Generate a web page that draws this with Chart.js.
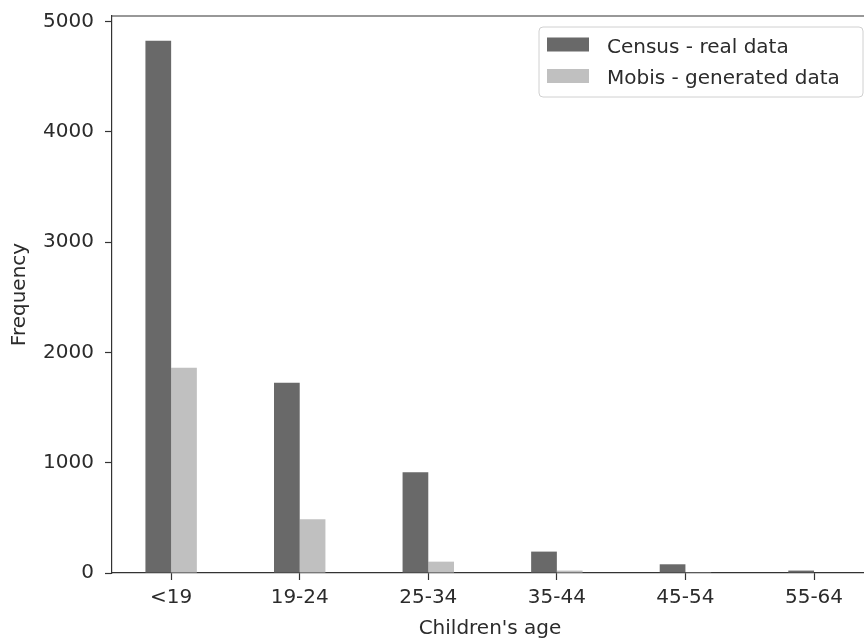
<!DOCTYPE html>
<html>
<head>
<meta charset="utf-8">
<title>Children's age – Census vs Mobis</title>
<script src="https://cdn.jsdelivr.net/npm/chart.js@4.4.1/dist/chart.umd.min.js"></script>
<style>
  html, body { margin: 0; padding: 0; background: #ffffff; overflow: hidden; }
  #wrap { width: 864px; height: 639px; overflow: hidden; }
  canvas { display: block; }
</style>
</head>
<body>
<div id="wrap"><canvas id="chart" width="880" height="639"></canvas></div>
<script>
// Age groups of the children
const categories = ['<19', '19-24', '25-34', '35-44', '45-54', '55-64'];
// Frequency per age group
const censusValues = [4826, 1725, 913, 194, 79, 22];
const mobisValues = [1861, 487, 103, 22, 2, 0];
// Y axis tick values
const yTicks = [0, 1000, 2000, 3000, 4000, 5000];

const seriesNames = ['Census - real data', 'Mobis - generated data'];
const seriesColors = ['#696969', '#c0c0c0'];

const TEXT = '#2b2b2b';
const AXIS = '#333333';
const FONT = 'DejaVu Sans';

Chart.defaults.font.family = FONT;
Chart.defaults.font.size = 20;
Chart.defaults.color = TEXT;

const toPoints = vals => categories.map((c, i) => ({ x: i, y: vals[i] }));

// Top and right frame lines of the plot box
const frame = {
  id: 'frame',
  afterDraw(chart) {
    const { ctx, chartArea: a } = chart;
    ctx.save();
    ctx.strokeStyle = AXIS;
    ctx.lineWidth = 1.2;
    ctx.beginPath();
    ctx.moveTo(a.left, a.top);
    ctx.lineTo(a.right, a.top);
    ctx.lineTo(a.right, a.bottom);
    ctx.stroke();
    ctx.restore();
  }
};

// Legend box inside the plot, upper right
const insideLegend = {
  id: 'insideLegend',
  afterDraw(chart) {
    const { ctx } = chart;
    const x0 = 539, y0 = 27, x1 = 863, y1 = 97, r = 4;
    ctx.save();
    ctx.fillStyle = 'rgba(255,255,255,0.8)';
    ctx.strokeStyle = '#d0d0d0';
    ctx.lineWidth = 1;
    ctx.beginPath();
    ctx.moveTo(x0 + r, y0);
    ctx.lineTo(x1 - r, y0);
    ctx.arcTo(x1, y0, x1, y0 + r, r);
    ctx.lineTo(x1, y1 - r);
    ctx.arcTo(x1, y1, x1 - r, y1, r);
    ctx.lineTo(x0 + r, y1);
    ctx.arcTo(x0, y1, x0, y1 - r, r);
    ctx.lineTo(x0, y0 + r);
    ctx.arcTo(x0, y0, x0 + r, y0, r);
    ctx.closePath();
    ctx.fill();
    ctx.stroke();
    ctx.font = '20px "' + FONT + '"';
    ctx.textBaseline = 'alphabetic';
    ctx.textAlign = 'left';
    chart.data.datasets.forEach((ds, i) => {
      const rowY = 37.5 + i * 31.5;
      ctx.fillStyle = ds.backgroundColor;
      ctx.fillRect(547, rowY, 42, 14);
      ctx.fillStyle = TEXT;
      ctx.fillText(ds.label, 607, rowY + 15);
    });
    ctx.restore();
  }
};

new Chart(document.getElementById('chart'), {
  type: 'bar',
  data: {
    datasets: [
      { label: seriesNames[0], data: toPoints(censusValues), backgroundColor: seriesColors[0], borderWidth: 0 },
      { label: seriesNames[1], data: toPoints(mobisValues), backgroundColor: seriesColors[1], borderWidth: 0 }
    ]
  },
  options: {
    responsive: false,
    devicePixelRatio: 1,
    animation: false,
    layout: { padding: { top: 16, right: 12, bottom: 0, left: 0 } },
    categoryPercentage: 0.4,
    barPercentage: 1.0,
    plugins: {
      legend: { display: false },
      tooltip: { enabled: false }
    },
    scales: {
      x: {
        type: 'linear',
        offset: false,
        min: -0.46,
        max: 5.42,
        afterFit(scale) {
          scale.height = 66;
          scale.paddingLeft = 0;
          scale.paddingRight = 0;
        },
        afterBuildTicks(scale) {
          scale.ticks = categories.map((c, i) => ({ value: i }));
        },
        ticks: {
          stepSize: 1,
          includeBounds: false,
          autoSkip: false,
          maxRotation: 0,
          padding: 6,
          color: TEXT,
          font: { size: 20 },
          callback: v => categories[v]
        },
        grid: {
          display: true,
          offset: false,
          drawOnChartArea: false,
          drawTicks: true,
          tickLength: 7,
          tickWidth: 1.2,
          color: AXIS
        },
        border: { display: true, color: AXIS, width: 1.2 },
        title: {
          display: true,
          text: "Children's age",
          color: TEXT,
          font: { size: 20, lineHeight: 1 },
          padding: { top: 0, bottom: 0 }
        }
      },
      y: {
        type: 'linear',
        min: 0,
        max: 5050,
        afterFit(scale) {
          scale.width = 112;
          scale.paddingTop = 0;
          scale.paddingBottom = 0;
        },
        afterBuildTicks(scale) {
          scale.ticks = yTicks.map(v => ({ value: v }));
        },
        ticks: {
          includeBounds: false,
          padding: 11,
          color: TEXT,
          font: { size: 20 },
          callback: v => String(v)
        },
        grid: {
          display: true,
          drawOnChartArea: false,
          drawTicks: true,
          tickLength: 7,
          tickWidth: 1.2,
          color: AXIS
        },
        border: { display: true, color: AXIS, width: 1.2 },
        title: {
          display: true,
          text: 'Frequency',
          color: TEXT,
          font: { size: 20 },
          padding: { top: 8, bottom: 0 }
        }
      }
    }
  },
  plugins: [frame, insideLegend]
});
</script>
</body>
</html>
